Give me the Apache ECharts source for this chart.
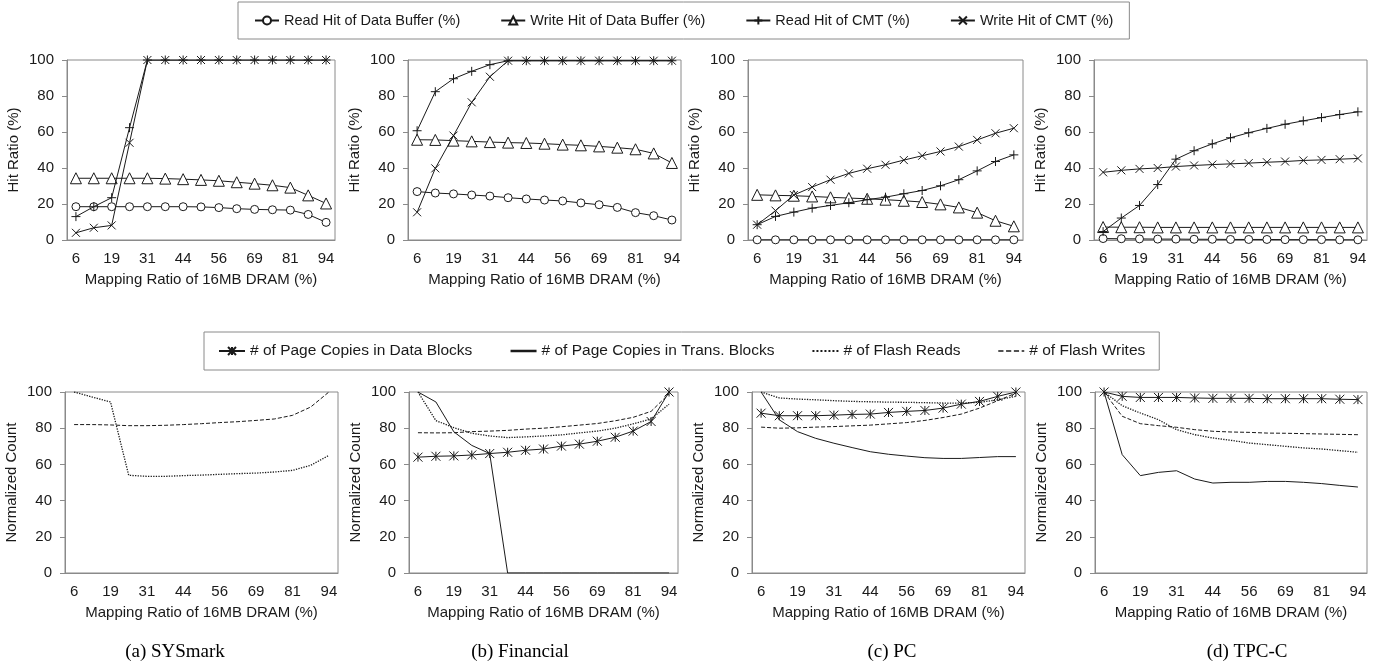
<!DOCTYPE html>
<html>
<head>
<meta charset="utf-8" />
<title>Hit Ratio and Normalized Count vs Mapping Ratio</title>
<script src="https://cdn.jsdelivr.net/npm/echarts@6/dist/echarts.min.js"></script>
<style>
  body { margin: 0; padding: 0; background: #fff; }
  #main { width: 1391px; height: 668px; }
</style>
</head>
<body>
<div id="main"></div>
<script type="text/javascript">
// mapping ratio of 16MB DRAM (%), labels shown every other category
var ratios = ['6', '13', '19', '25', '31', '38', '44', '50', '56', '63', '69', '75', '81', '88', '94'];
var captions = ['(a) SYSmark', '(b) Financial', '(c) PC', '(d) TPC-C'];

var topNames = ['Read Hit of Data Buffer (%)', 'Write Hit of Data Buffer (%)', 'Read Hit of CMT (%)', 'Write Hit of CMT (%)'];
var botNames = ['# of Page Copies in Data Blocks', '# of Page Copies in Trans. Blocks', '# of Flash Reads', '# of Flash Writes'];

// hit ratio (%) - SYSmark
var sysReadBuf = [18.5, 18.5, 18.5, 18.5, 18.5, 18.5, 18.5, 18.4, 18.0, 17.4, 17.0, 16.8, 16.6, 14.2, 9.8];
var sysWriteBuf = [34.3, 34.3, 34.3, 34.3, 34.3, 34.1, 33.8, 33.4, 32.9, 32.1, 31.3, 30.4, 29.1, 24.8, 20.3];
var sysReadCmt = [13, 18.5, 23.5, 62.4, 100, 100, 100, 100, 100, 100, 100, 100, 100, 100, 100];
var sysWriteCmt = [4, 6.8, 8.1, 54, 100, 100, 100, 100, 100, 100, 100, 100, 100, 100, 100];
// Financial
var finReadBuf = [26.9, 26.1, 25.6, 25.0, 24.4, 23.5, 22.8, 22.2, 21.7, 20.6, 19.6, 18.1, 15.2, 13.5, 11.1];
var finWriteBuf = [55.7, 55.6, 55.2, 54.8, 54.4, 54.1, 53.9, 53.5, 53.0, 52.6, 52.0, 51.3, 50.4, 48.1, 42.8];
var finReadCmt = [60.7, 82.4, 89.6, 93.7, 97.4, 99.6, 99.6, 99.6, 99.6, 99.6, 99.6, 99.6, 99.6, 99.6, 99.6];
var finWriteCmt = [15.4, 39.8, 58, 76.5, 90.7, 99.6, 99.6, 99.6, 99.6, 99.6, 99.6, 99.6, 99.6, 99.6, 99.6];
// PC
var pcReadBuf = [0.1, 0.1, 0.1, 0.1, 0.1, 0.1, 0.1, 0.1, 0.1, 0.1, 0.1, 0.1, 0.1, 0.1, 0.1];
var pcWriteBuf = [25.1, 24.8, 24.6, 24.2, 23.7, 23.3, 22.9, 22.4, 21.8, 21.1, 19.8, 18.1, 15.2, 10.7, 7.6];
var pcReadCmt = [8.5, 13.1, 15.5, 17.7, 19.2, 20.7, 22.4, 23.8, 25.7, 27.5, 30.1, 33.5, 38.4, 43.6, 47.3];
var pcWriteCmt = [8.5, 16.3, 25, 29.4, 33.5, 37, 39.6, 41.8, 44.4, 46.8, 49.2, 51.9, 55.6, 59.3, 62.1];
// TPC-C
var tpcReadBuf = [0.8, 0.7, 0.6, 0.5, 0.5, 0.4, 0.4, 0.3, 0.3, 0.3, 0.2, 0.2, 0.2, 0.1, 0.1];
var tpcWriteBuf = [7.2, 7.1, 7.1, 7.0, 7.0, 7.0, 7.0, 7.0, 7.0, 7.0, 7.0, 7.0, 7.0, 7.0, 7.0];
var tpcReadCmt = [4.7, 12.2, 19.2, 30.8, 44.9, 49.6, 53.4, 56.8, 59.6, 62, 64.3, 66.2, 68, 69.7, 71.2];
var tpcWriteCmt = [37.6, 38.7, 39.5, 40, 40.8, 41.4, 41.9, 42.3, 42.7, 43.2, 43.6, 44.2, 44.5, 44.9, 45.3];

// normalized count - SYSmark (no page copy lines drawn)
var sysFlashReads = [100, 97.2, 94.5, 54, 53.4, 53.4, 53.8, 54.1, 54.5, 54.9, 55.2, 55.8, 56.7, 59.5, 65];
var sysFlashWrites = [82, 82, 81.8, 81.4, 81.4, 81.6, 82, 82.5, 83.1, 83.6, 84.3, 85.1, 87.1, 91.7, 100];
// Financial
var finDataBlocks = [64, 64.5, 64.7, 65.2, 66, 66.7, 67.8, 68.5, 70.1, 71.2, 72.8, 75, 78.4, 83.7, 100];
var finTransBlocks = [100, 94.5, 78, 70.5, 66, 0, 0, 0, 0, 0, 0, 0, 0, 0, 0];
var finFlashReads = [100, 84.2, 80.3, 77.2, 75.7, 74.8, 75.2, 75.7, 76.3, 77.4, 78.4, 80, 82.4, 85.1, 93.3];
var finFlashWrites = [77.5, 77.4, 77.5, 78.1, 78.4, 78.8, 79.5, 80, 80.8, 81.7, 82.6, 84.1, 86, 89.3, 99];
// PC
var pcDataBlocks = [88.3, 86.9, 86.9, 86.9, 87.2, 87.6, 87.8, 88.7, 89.3, 89.8, 91.1, 93.3, 94.8, 97.6, 100];
var pcTransBlocks = [100, 84.6, 78.1, 74.4, 71.7, 69.3, 67, 65.6, 64.6, 63.7, 63.3, 63.3, 63.8, 64.3, 64.3];
var pcFlashReads = [100, 96.7, 96.1, 95.7, 95.2, 94.8, 94.6, 94.4, 94.3, 94.1, 93.9, 93.9, 94.3, 95.7, 97.6];
var pcFlashWrites = [80.6, 80, 80.2, 80.6, 80.9, 81.3, 81.7, 82.4, 83.1, 84.3, 85.9, 87.8, 91.1, 95.2, 99.4];
// TPC-C
var tpcDataBlocks = [100, 97.6, 97, 97, 97, 96.7, 96.5, 96.5, 96.5, 96.3, 96.3, 96.3, 96.3, 96, 95.8];
var tpcTransBlocks = [100, 65.4, 53.8, 55.6, 56.5, 51.9, 49.7, 50.1, 50.1, 50.6, 50.6, 50.1, 49.4, 48.4, 47.5];
var tpcFlashReads = [100, 92.4, 88.4, 84.7, 79.2, 76.4, 74.6, 73.3, 71.8, 70.9, 70, 69.1, 68.5, 67.6, 66.7];
var tpcFlashWrites = [100, 86.6, 82.5, 81.4, 80.5, 79.2, 78.3, 77.9, 77.7, 77.3, 77.2, 77, 76.8, 76.6, 76.4];

var topData = [
  [sysReadBuf, sysWriteBuf, sysReadCmt, sysWriteCmt],
  [finReadBuf, finWriteBuf, finReadCmt, finWriteCmt],
  [pcReadBuf, pcWriteBuf, pcReadCmt, pcWriteCmt],
  [tpcReadBuf, tpcWriteBuf, tpcReadCmt, tpcWriteCmt]
];
var botData = [
  [null, null, sysFlashReads, sysFlashWrites],
  [finDataBlocks, finTransBlocks, finFlashReads, finFlashWrites],
  [pcDataBlocks, pcTransBlocks, pcFlashReads, pcFlashWrites],
  [tpcDataBlocks, tpcTransBlocks, tpcFlashReads, tpcFlashWrites]
];

var FONT = '"Liberation Sans", Arial, sans-serif';
var INK = '#1a1a1a';
var FRAME = '#8a8a8a';

var PLUS = 'path://M0,5L10,5M5,0L5,10';
var CROSS = 'path://M0,0L10,10M10,0L0,10';
var STAR = 'path://M0,0L10,10M10,0L0,10M5,0L5,10';

var grids = [
  { left: 67, top: 60, width: 268, height: 180 },
  { left: 408, top: 60, width: 273, height: 180 },
  { left: 748, top: 60, width: 275, height: 180 },
  { left: 1094, top: 60, width: 273, height: 180 },
  { left: 65, top: 392, width: 273, height: 181 },
  { left: 409, top: 392, width: 269, height: 181 },
  { left: 752, top: 392, width: 273, height: 181 },
  { left: 1095, top: 392, width: 272, height: 181 }
];
grids.forEach(function (g) {
  g.show = true;
  g.borderColor = FRAME;
  g.borderWidth = 1;
});

function xAxisFor(i) {
  return {
    type: 'category',
    gridIndex: i,
    data: ratios,
    boundaryGap: true,
    name: 'Mapping Ratio of 16MB DRAM (%)',
    nameLocation: 'middle',
    nameGap: 32,
    nameTextStyle: { fontSize: 15, color: INK, fontFamily: FONT },
    axisLine: { lineStyle: { color: FRAME } },
    axisTick: { interval: 0, length: 5, lineStyle: { color: FRAME } },
    axisLabel: { interval: 1, margin: 11, fontSize: 15, color: INK, fontFamily: FONT },
    splitLine: { show: false }
  };
}

function yAxisFor(i, name) {
  return {
    type: 'value',
    gridIndex: i,
    min: 0,
    max: 100,
    interval: 20,
    name: name,
    nameLocation: 'middle',
    nameGap: 46,
    nameTextStyle: { fontSize: 15, color: INK, fontFamily: FONT },
    axisLine: { show: true, lineStyle: { color: FRAME } },
    axisTick: { show: true, length: 5, lineStyle: { color: FRAME } },
    axisLabel: { margin: 13, fontSize: 15, color: INK, fontFamily: FONT },
    splitLine: { show: false }
  };
}

// marker style per top series
var topStyle = [
  { symbol: 'circle', size: 8, fill: '#fff' },
  { symbol: 'triangle', size: 11, fill: '#fff' },
  { symbol: PLUS, size: 9, fill: INK },
  { symbol: CROSS, size: 8, fill: INK }
];
// line style per bottom series
var botStyle = [
  { type: 'solid', symbol: STAR, size: 9 },
  { type: 'solid', symbol: 'none', size: 0 },
  { type: 'dotted', symbol: 'none', size: 0 },
  { type: 'dashed', symbol: 'none', size: 0 }
];

var xAxes = [], yAxes = [], series = [];
for (var i = 0; i < 8; i++) {
  xAxes.push(xAxisFor(i));
  yAxes.push(yAxisFor(i, i < 4 ? 'Hit Ratio (%)' : 'Normalized Count'));
}

topData.forEach(function (sets, c) {
  sets.forEach(function (vals, k) {
    var st = topStyle[k];
    series.push({
      name: topNames[k],
      type: 'line',
      xAxisIndex: c,
      yAxisIndex: c,
      data: vals,
      symbol: st.symbol,
      symbolSize: st.size,
      showAllSymbol: true,
      lineStyle: { color: INK, width: 1 },
      itemStyle: { color: st.fill, borderColor: INK, borderWidth: 1 },
      emphasis: { disabled: true },
      silent: true,
      z: 2 + k
    });
  });
});

botData.forEach(function (sets, c) {
  sets.forEach(function (vals, k) {
    if (!vals) return;
    var st = botStyle[k];
    series.push({
      name: botNames[k],
      type: 'line',
      xAxisIndex: 4 + c,
      yAxisIndex: 4 + c,
      data: vals,
      symbol: st.symbol,
      symbolSize: st.size,
      showAllSymbol: true,
      lineStyle: { color: INK, width: k === 2 ? 1.3 : 1, type: st.type },
      itemStyle: { color: INK, borderColor: INK, borderWidth: 1 },
      emphasis: { disabled: true },
      silent: true,
      z: 2 + k
    });
  });
});

// legend entries for plain lines: hide the marker, keep the stroke
var legendWidths = [1, 2.5, 2, 1.3];
var botLegend = botNames.map(function (n, k) {
  if (k === 0) return n;
  return {
    name: n,
    itemStyle: { opacity: 0 },
    lineStyle: { width: legendWidths[k], opacity: 1 }
  };
});

var captionX = [175, 520, 892, 1247];

var myChart = echarts.init(document.getElementById('main'), null, { renderer: 'canvas' });
var option = {
  backgroundColor: '#fff',
  animation: false,
  grid: grids,
  xAxis: xAxes,
  yAxis: yAxes,
  legend: [
    {
      data: topNames,
      left: 238,
      top: 2,
      padding: [11, 16],
      itemGap: 40,
      itemWidth: 24,
      itemHeight: 10,
      borderColor: FRAME,
      borderWidth: 1,
      selectedMode: false,
      textStyle: { fontSize: 14.5, color: INK, fontFamily: FONT }
    },
    {
      data: botLegend,
      left: 204,
      top: 332,
      padding: [11, 14],
      itemGap: 37,
      itemWidth: 26,
      itemHeight: 10,
      borderColor: FRAME,
      borderWidth: 1,
      selectedMode: false,
      textStyle: { fontSize: 15.5, color: INK, fontFamily: FONT }
    }
  ],
  graphic: captions.map(function (t, i) {
    return {
      type: 'text',
      x: captionX[i],
      y: 652,
      silent: true,
      style: {
        text: t,
        fontSize: 19,
        fontFamily: '"Liberation Serif", "Times New Roman", serif',
        fill: '#000',
        align: 'center',
        verticalAlign: 'middle'
      }
    };
  }),
  series: series
};
myChart.setOption(option);
</script>
</body>
</html>
